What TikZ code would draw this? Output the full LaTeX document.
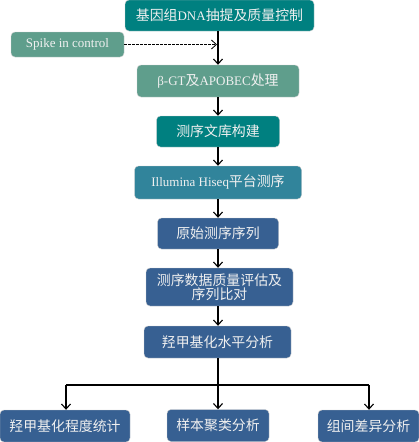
\documentclass[tikz,border=0pt]{standalone}
\usepackage{fontspec}
\setmainfont{Liberation Serif}
\newfontfamily\cjk[Scale=1.07]{Noto Sans CJK SC}
\usetikzlibrary{arrows.meta}
\definecolor{cTeal}{RGB}{0,128,128}
\definecolor{cSea}{RGB}{95,158,140}
\definecolor{cCyan}{RGB}{49,132,155}
\definecolor{cBlue}{RGB}{55,96,146}
\definecolor{cText}{RGB}{240,240,240}
\tikzset{
  flowbox/.style={draw=white!80!black, line width=0.4pt, rounded corners=4pt, text=cText,
    inner sep=0pt, align=center, font=\fontsize{13}{14}\selectfont},
  flowarrow/.style={draw=black, line width=1.2pt, -{Straight Barb[length=5pt,width=9pt,line width=1.1pt]}},
  dasharrow/.style={draw=black, line width=0.7pt, dash pattern=on 2.5pt off 1.5pt, -{Straight Barb[length=5pt,width=9pt,line width=0.8pt]}},
  flowline/.style={draw=black, line width=1.2pt}
}
\begin{document}
\begin{tikzpicture}[x=1pt,y=-1pt]
\useasboundingbox (0,0) rectangle (419,442);
\node[flowbox, fill=cTeal, minimum width=189pt, minimum height=31pt] (n1) at (219.5,15.5) {{\cjk 基因组}DNA{\cjk 抽提及质量控制}};
\node[flowbox, fill=cSea, minimum width=113pt, minimum height=25pt] (sp) at (67.5,44.5) {Spike in control};
\node[flowbox, fill=cSea, minimum width=162pt, minimum height=32pt] (n2) at (218,81) {β-GT{\cjk 及}APOBEC{\cjk 处理}};
\node[flowbox, fill=cTeal, minimum width=123pt, minimum height=31pt] (n3) at (218,131.5) {\cjk 测序文库构建};
\node[flowbox, fill=cCyan, minimum width=167pt, minimum height=33pt] (n4) at (218,182.5) {Illumina Hiseq{\cjk 平台测序}};
\node[flowbox, fill=cBlue, minimum width=121pt, minimum height=31pt] (n5) at (218,233.5) {\cjk 原始测序序列};
\node[flowbox, fill=cBlue, minimum width=147pt, minimum height=38pt] (n6) at (219.5,287) {\cjk 测序数据质量评估及\\\cjk 序列比对};
\node[flowbox, fill=cBlue, minimum width=147pt, minimum height=32pt] (n7) at (217.5,342) {\cjk 羟甲基化水平分析};
\node[flowbox, fill=cBlue, minimum width=130pt, minimum height=32pt] (b1) at (65,426) {\cjk 羟甲基化程度统计};
\node[flowbox, fill=cBlue, minimum width=102pt, minimum height=32pt] (b2) at (218,425.5) {\cjk 样本聚类分析};
\node[flowbox, fill=cBlue, minimum width=101pt, minimum height=32pt] (b3) at (368.5,426) {\cjk 组间差异分析};
\coordinate (j0) at (218,31);
\coordinate (jd) at (217,44.5);
\coordinate (hl) at (66,385);
\coordinate (hc) at (218,385);
\coordinate (hr) at (369,385);
\draw[flowarrow] (j0) -- (n2.north -| j0);
\draw[dasharrow] (sp.east) -- (jd);
\draw[flowarrow] (n2.south -| j0) -- (n3.north -| j0);
\draw[flowarrow] (n3.south -| j0) -- (n4.north -| j0);
\draw[flowarrow] (n4.south -| j0) -- (n5.north -| j0);
\draw[flowarrow] (n5.south -| j0) -- (n6.north -| j0);
\draw[flowarrow] (n6.south -| j0) -- (n7.north -| j0);
\draw[flowline] (n7.south -| j0) -- (hc);
\draw[flowline] (hl) -- (hr);
\draw[flowarrow] (hl) -- (b1.north -| hl);
\draw[flowarrow] (hc) -- (b2.north);
\draw[flowarrow] (hr) -- (b3.north -| hr);
\end{tikzpicture}
\end{document}
